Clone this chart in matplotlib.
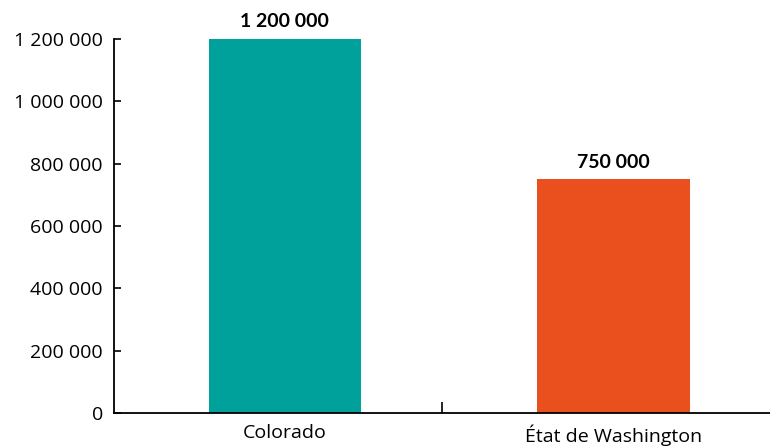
import matplotlib
matplotlib.use("Agg")
import matplotlib.pyplot as plt
from matplotlib.ticker import FuncFormatter

categories = ["Colorado", "État de Washington"]
values = [1200000, 750000]
colors = ["#00a19a", "#e9501e"]
yticks = [0, 200000, 400000, 600000, 800000, 1000000, 1200000]

plt.rcParams['font.family'] = ['Open Sans', 'DejaVu Sans']

def fmt(v, pos=None):
    return "{:,}".format(int(v)).replace(",", " ")

fig = plt.figure(figsize=(7.7, 4.46), dpi=100)
ax = fig.add_axes([0.148, 0.074, 0.852, 0.8386])

x = list(range(len(categories)))
bars = ax.bar(x, values, width=0.463, color=colors)
for xi, v in zip(x, values):
    ax.text(xi, v + 28000, fmt(v), ha="center", va="bottom", fontsize=14,
            fontweight="bold", family=['Lato', 'DejaVu Sans'], clip_on=False)

ax.set_xlim(-0.52, 1.476)
ax.set_ylim(0, 1200000)
ax.set_yticks(yticks)
ax.yaxis.set_major_formatter(FuncFormatter(fmt))
ax.set_xticks(x)
ax.set_xticklabels(categories)
ax.set_xticks([0.478], minor=True)
ax.tick_params(axis="x", which="major", length=0, labelsize=14, pad=8)
ax.tick_params(axis="x", which="minor", direction="in", length=8, width=1.2)
ax.tick_params(axis="y", direction="in", length=5, width=1.2, labelsize=14, pad=8)
for s in ["top", "right"]:
    ax.spines[s].set_visible(False)
for s in ["left", "bottom"]:
    ax.spines[s].set_linewidth(1.3)

fig.savefig("out.png", dpi=100)
